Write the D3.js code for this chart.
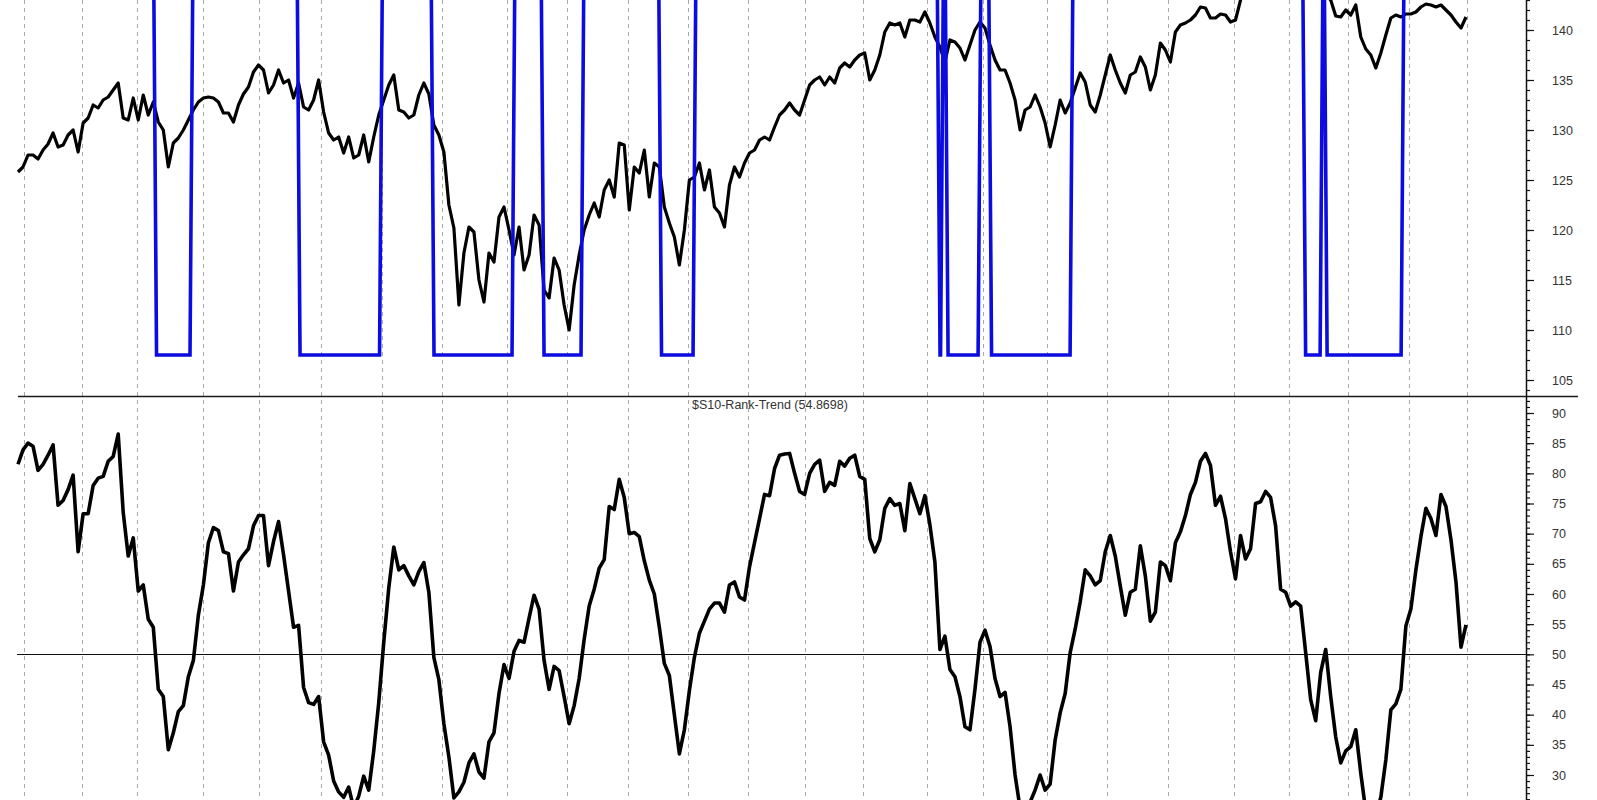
<!DOCTYPE html>
<html><head><meta charset="utf-8">
<script src="https://cdn.jsdelivr.net/npm/d3@7"></script>
<style>html,body{margin:0;padding:0;background:#fff;overflow:hidden}svg{display:block}</style>
</head><body>
<svg id="c" width="1597" height="800"></svg>
<script>
// ---- DATA ----
const price = [
125.8,126.3,127.5,127.5,127.1,128.0,128.6,129.7,128.3,128.5,
129.5,130.0,127.8,130.7,131.2,132.5,132.2,133.0,133.3,134.0,
134.7,131.2,131.0,133.2,131.0,133.5,131.5,132.8,130.8,130.0,
126.3,128.7,129.2,130.0,131.0,132.0,132.8,133.2,133.3,133.2,
132.8,131.7,131.7,130.8,132.5,133.6,134.3,135.8,136.5,136.0,
133.7,134.5,136.0,134.7,135.0,133.2,134.7,132.3,132.0,133.0,
135.0,131.8,129.7,129.0,129.3,127.7,129.3,127.2,127.5,129.5,
126.8,129.3,131.5,133.0,134.5,135.5,132.0,131.8,131.2,131.5,
133.5,134.7,133.6,130.5,129.5,127.8,122.5,120.2,112.5,117.7,
120.3,119.8,115.0,112.8,117.7,116.8,121.3,122.3,120.0,117.5,
120.3,116.0,117.5,121.5,120.5,114.0,113.2,117.2,116.0,112.5,
110.0,114.5,117.5,120.0,121.5,122.7,121.3,124.0,125.0,123.3,
128.7,128.5,122.0,126.3,125.7,128.0,123.3,126.7,126.3,122.3,
120.7,119.3,116.5,120.0,125.0,125.3,126.7,124.0,126.0,122.3,
121.7,120.3,124.5,126.3,125.3,126.7,127.7,128.0,129.0,129.3,
129.0,130.3,131.5,132.0,132.7,132.0,131.5,133.0,134.5,135.0,
135.3,134.5,135.3,134.7,136.2,136.7,136.3,137.0,137.5,137.7,
135.0,136.0,137.5,139.8,140.7,140.5,140.7,139.3,141.0,141.0,
140.8,141.8,140.7,139.3,138.3,136.8,139.0,138.8,138.2,137.0,
138.5,140.0,140.8,140.2,138.5,137.0,136.0,136.0,134.7,133.0,
130.0,132.0,132.3,133.5,132.3,130.7,128.3,130.5,133.0,131.7,
132.7,134.2,135.7,134.8,132.5,131.8,133.5,135.5,137.5,136.0,
134.7,133.7,135.5,135.8,137.3,136.3,134.0,135.5,138.7,138.0,
136.8,139.8,140.5,140.7,141.0,141.5,142.3,142.2,141.2,141.2,
141.6,141.5,140.8,141.0,143.0,144.5,145.5,146.0,146.5,146.0,
147.0,146.5,147.0,146.5,146.0,145.5,145.5,145.0,144.5,144.0,
143.8,143.5,143.0,141.4,141.3,142.0,141.5,142.5,139.3,138.1,
137.5,136.2,137.7,139.5,141.2,141.5,141.3,141.6,141.6,141.8,
142.3,142.6,142.5,142.3,142.5,142.0,141.5,140.8,140.2,141.3
];
const rank = [
81.5,83.9,85.0,84.5,80.5,81.5,83.0,84.7,74.7,75.5,
77.3,79.7,67.0,73.3,73.3,78.0,79.2,79.5,82.0,82.8,
86.5,73.5,66.3,69.3,60.5,61.5,55.8,54.5,44.2,43.0,
34.2,37.0,40.5,41.5,46.3,49.0,56.5,61.5,68.5,71.0,
70.5,67.0,66.7,60.5,65.3,66.5,67.5,71.3,73.0,73.0,
64.7,68.7,72.0,66.5,60.5,54.5,54.8,44.5,42.0,41.7,
43.0,35.5,33.3,29.0,27.2,26.3,28.0,24.5,26.5,29.8,
27.5,34.0,42.0,52.0,61.0,67.8,64.0,64.7,63.0,61.5,
63.7,65.2,60.3,49.5,45.8,38.5,33.0,26.2,27.2,28.8,
32.0,33.5,30.5,29.5,35.5,37.0,43.5,48.3,46.0,50.5,
52.3,52.0,56.0,59.8,57.5,49.0,44.2,48.0,47.3,43.0,
38.5,41.5,46.0,52.5,58.0,60.8,64.3,65.7,74.5,74.0,
79.0,76.0,70.0,70.2,69.5,65.5,62.3,60.0,54.5,48.5,
46.5,40.0,33.5,37.5,44.0,49.5,53.5,55.5,57.5,58.5,
58.5,57.0,61.5,62.0,59.5,59.0,64.5,68.5,72.5,76.5,
76.3,80.8,83.0,83.2,83.3,80.0,77.0,76.5,80.0,81.5,
82.2,77.0,78.5,78.0,82.0,81.2,82.5,83.0,79.5,79.0,
69.2,67.0,69.0,74.2,75.8,74.7,75.0,70.5,78.3,75.8,
73.3,76.3,71.5,65.3,50.8,53.0,47.5,46.3,43.0,38.0,
37.5,44.2,52.0,54.0,51.3,46.0,43.0,43.7,38.0,30.0,
24.5,24.0,25.5,27.5,30.0,27.5,28.5,35.8,40.3,43.5,
50.3,54.2,58.7,64.0,63.0,61.5,62.2,67.0,69.7,66.3,
61.3,56.5,60.3,60.8,68.0,63.0,55.5,57.0,65.3,64.7,
62.2,68.5,70.3,73.0,76.5,78.5,82.0,83.3,81.3,74.7,
76.2,72.5,67.0,62.5,69.7,65.8,67.5,75.0,75.3,77.0,
76.0,71.3,60.8,60.3,58.0,58.7,58.0,50.3,42.5,39.0,
47.0,50.8,43.0,36.3,32.0,34.0,34.7,37.5,30.3,24.0,
22.5,23.5,26.3,32.5,40.8,41.8,44.2,54.7,57.5,64.0,
69.5,74.2,72.5,69.7,76.5,74.5,69.0,62.0,51.2,54.87
];
// signal "low" periods [start, end] in sample-index units
const signalLowPeriods = [
[27.35,34.63],[55.99,72.46],[82.73,98.90],[104.69,112.67],[128.14,135.03],
[183.73,184.43],[185.33,191.92],[194.01,210.28],[256.69,260.18],[260.98,276.35]
];
const signalHigh = 148, signalLow = 107.5;
// month boundaries in sample-index units
const monthGrid = [1.20,12.77,23.75,36.93,48.10,60.48,72.65,84.63,97.60,109.58,121.76,
133.73,145.71,157.09,168.66,181.44,192.61,205.39,217.37,229.54,242.71,253.69,265.47,277.64,289.22];
const priceTicks = [105,110,115,120,125,130,135,140];
const rankTicks = [30,35,40,45,50,55,60,65,70,75,80,85,90];
const rankThreshold = 50;
const rankTitle = "$S10-Rank-Trend (54.8698)";

// ---- LAYOUT ----
const W = 1597, H = 800;
const axisX = 1526, sepY = 396;
const FONT = "Arial, 'Liberation Sans', sans-serif";
const svg = d3.select("#c");

const x = d3.scaleLinear().domain([0, price.length - 1]).range([18, 1466]);
const yP = d3.scaleLinear().domain([105, 140]).range([380, 30]);
const yR = d3.scaleLinear().domain([30, 90]).range([775, 413]);

const defs = svg.append("defs");
defs.append("clipPath").attr("id","clipTop").append("rect").attr("x",0).attr("y",0).attr("width",axisX).attr("height",sepY);
defs.append("clipPath").attr("id","clipBot").append("rect").attr("x",0).attr("y",sepY).attr("width",axisX).attr("height",H-sepY);

// gridlines
svg.append("g").selectAll("line").data(monthGrid).join("line")
  .attr("x1", d => Math.round(x(d)) + 0.5).attr("x2", d => Math.round(x(d)) + 0.5)
  .attr("y1", 0).attr("y2", H)
  .attr("stroke", "#a9a9a9").attr("stroke-width", 1).attr("stroke-dasharray", "4,4");

// separator & threshold line
svg.append("line").attr("x1",18).attr("x2",1578).attr("y1",sepY+0.5).attr("y2",sepY+0.5)
  .attr("stroke","#1a1a1a").attr("stroke-width",1.5);
svg.append("line").attr("x1",17).attr("x2",axisX).attr("y1",Math.round(yR(rankThreshold))+0.5).attr("y2",Math.round(yR(rankThreshold))+0.5)
  .attr("stroke","#111").attr("stroke-width",1.2);

// price line
const gTop = svg.append("g").attr("clip-path","url(#clipTop)");
gTop.append("path").datum(price)
  .attr("fill","none").attr("stroke","#000").attr("stroke-width",3.2).attr("stroke-linejoin","round")
  .attr("d", d3.line().x((d,i)=>x(i)).y(d=>yP(d)));

// signal line built from periods
const sig = [[0, signalHigh]];
signalLowPeriods.forEach(([s,e]) => {
  sig.push([s-0.3, signalHigh],[s+0.3, signalLow],[e-0.3, signalLow],[e+0.3, signalHigh]);
});
sig.push([price.length-1, signalHigh]);
gTop.append("path").datum(sig)
  .attr("fill","none").attr("stroke","#0c0ce0").attr("stroke-width",3.6).attr("stroke-linejoin","miter")
  .attr("d", d3.line().x(d=>x(d[0])).y(d=>yP(d[1])));

// rank line
const gBot = svg.append("g").attr("clip-path","url(#clipBot)");
gBot.append("path").datum(rank)
  .attr("fill","none").attr("stroke","#000").attr("stroke-width",3.6).attr("stroke-linejoin","round")
  .attr("d", d3.line().x((d,i)=>x(i)).y(d=>yR(d)));

// title
svg.append("text").attr("x",692).attr("y",409).text(rankTitle)
  .attr("font-family",FONT).attr("font-size","12.5px").attr("fill","#333");

// axes
svg.append("line").attr("x1",axisX+0.5).attr("x2",axisX+0.5).attr("y1",0).attr("y2",H)
  .attr("stroke","#111").attr("stroke-width",1.5);

function axisGroup(scale, minorVals, majorVals){
  const gMin = svg.append("g").attr("transform",`translate(${axisX},0)`)
    .call(d3.axisRight(scale).tickValues(minorVals).tickSize(4).tickFormat(""));
  gMin.select(".domain").remove();
  gMin.selectAll("line").attr("stroke","#111").attr("stroke-width",1.2);
  const gMaj = svg.append("g").attr("transform",`translate(${axisX},0)`)
    .call(d3.axisRight(scale).tickValues(majorVals).tickSize(8).tickPadding(18).tickFormat(d3.format("d")));
  gMaj.select(".domain").remove();
  gMaj.selectAll("line").attr("stroke","#111").attr("stroke-width",1.2);
  gMaj.selectAll("text").attr("font-family",FONT).attr("font-size","12.5px").attr("fill","#333");
}
axisGroup(yP, d3.range(104,144), priceTicks);
axisGroup(yR, d3.range(26,93), rankTicks);
</script>
</body></html>
